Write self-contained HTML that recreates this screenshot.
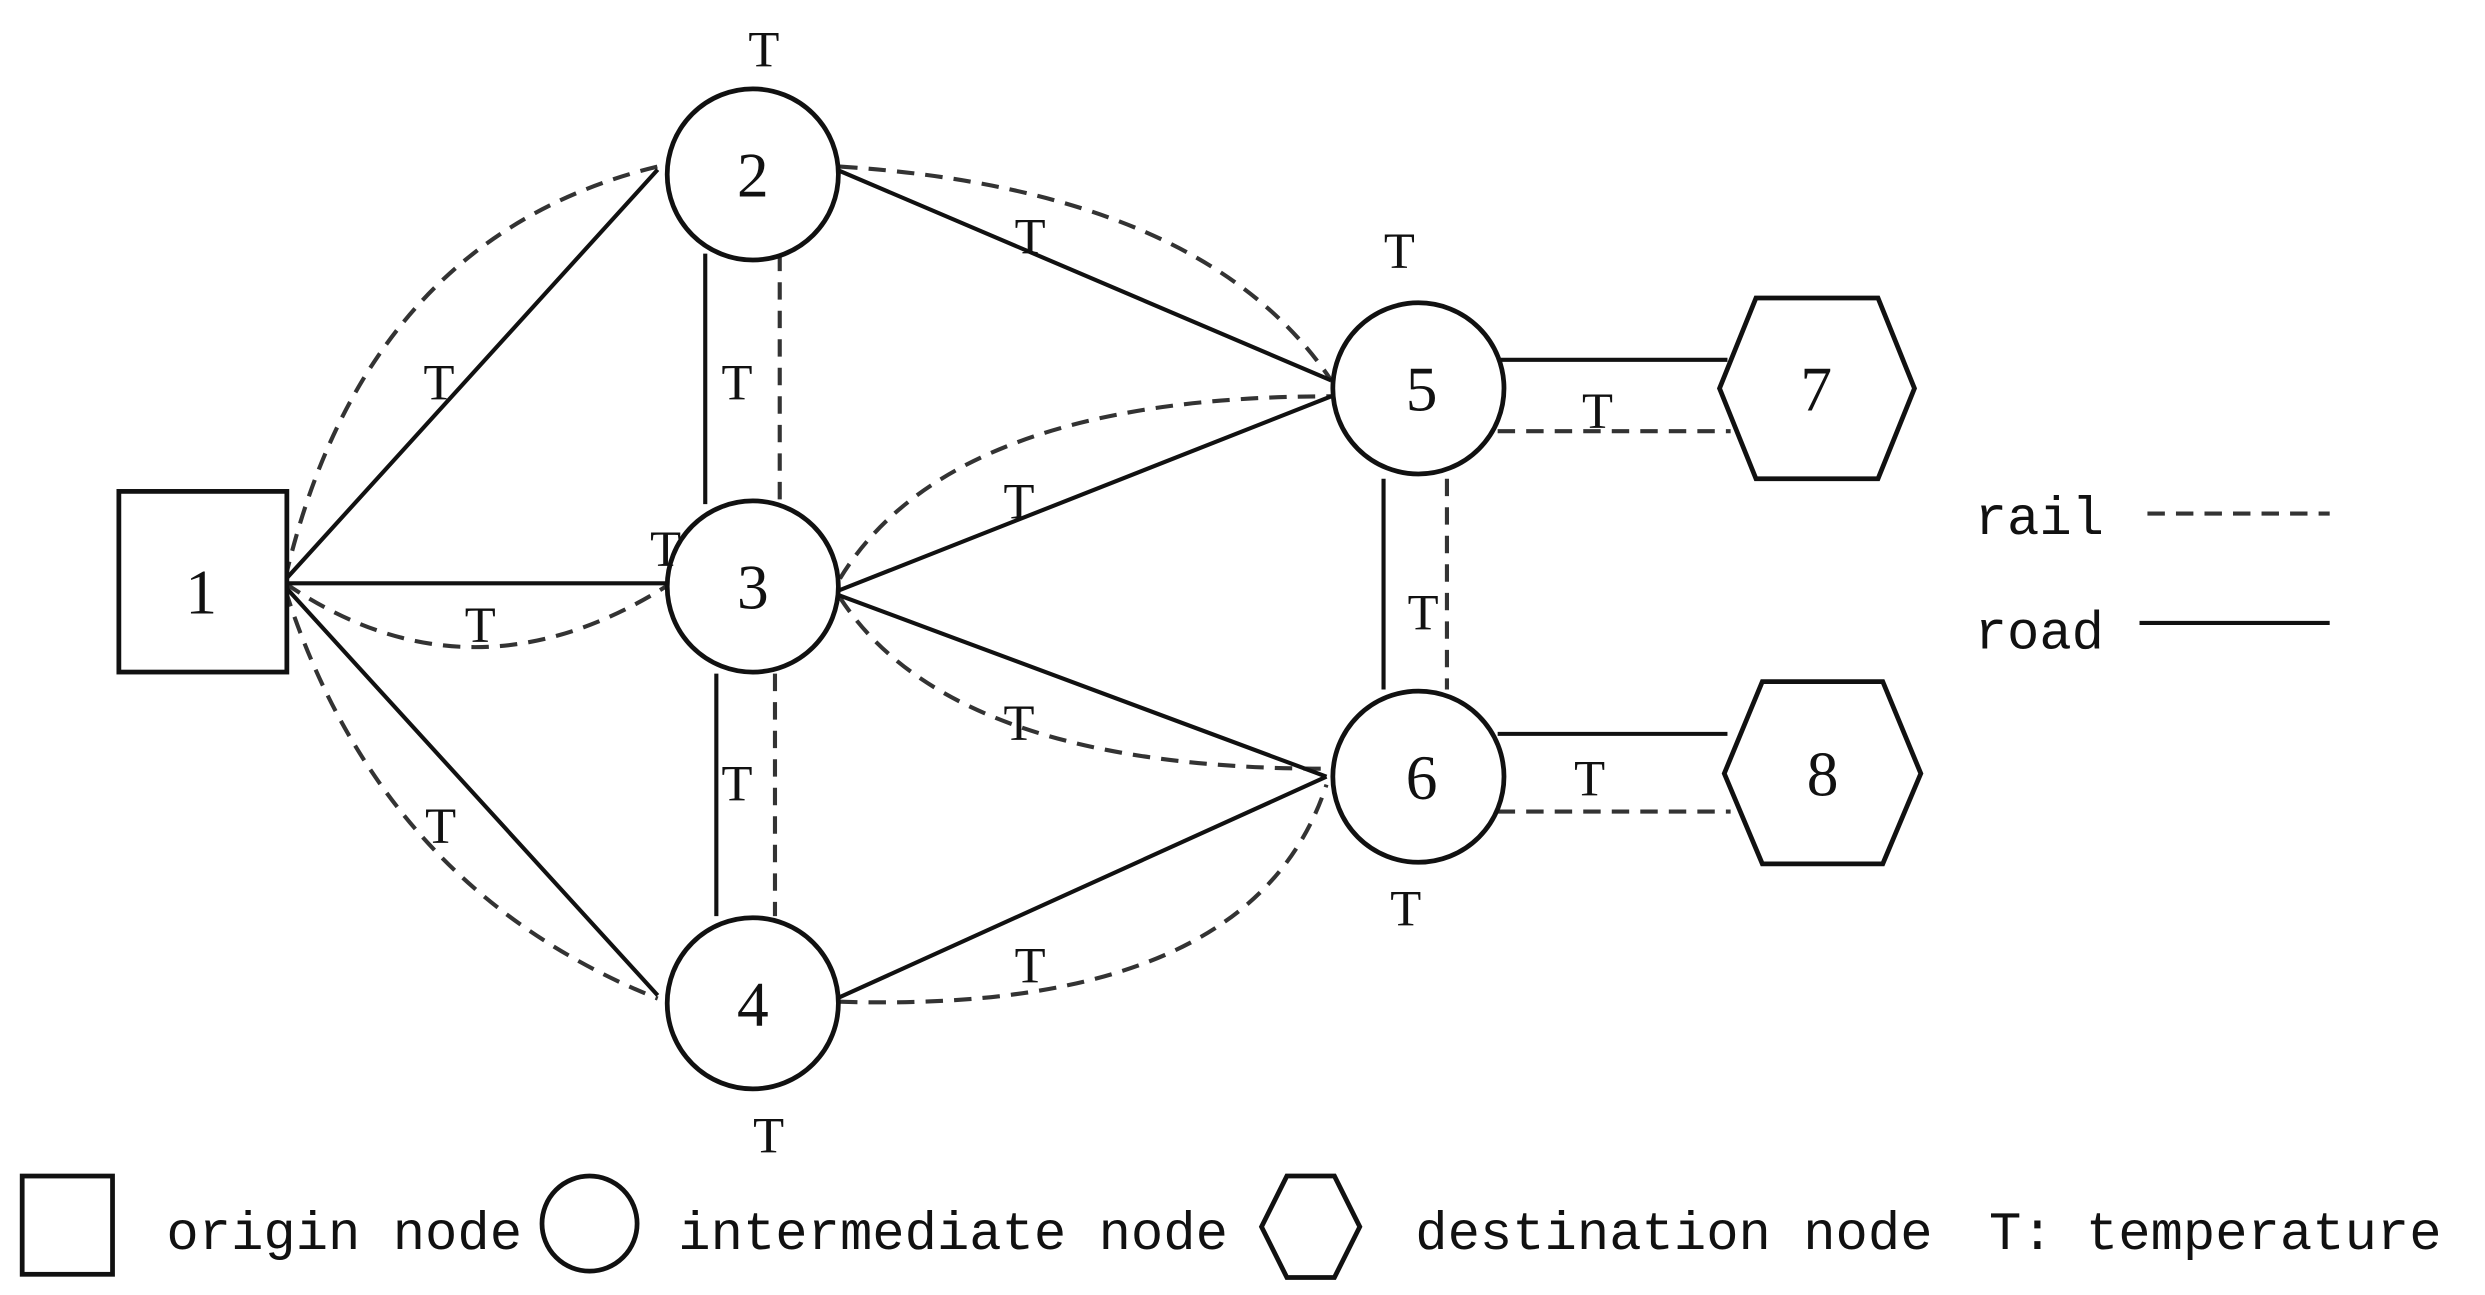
<!DOCTYPE html>
<html><head><meta charset="utf-8"><style>
html,body{margin:0;padding:0;background:#fff;}
svg{display:block;}
text{font-family:"Liberation Serif",serif;fill:#111;}
.m{font-family:"Liberation Mono",monospace;}
</style></head><body>
<svg width="2485" height="1295" viewBox="0 0 1568 817" xmlns="http://www.w3.org/2000/svg">
<g fill="none" stroke="#333" stroke-width="2.6" stroke-dasharray="11,7">
<path d="M180,365 Q230,150 415,105"/>
<path d="M180,368 Q300,450 428,365"/>
<path d="M180,372 Q240,560 415,630"/>
<path d="M530,105 Q760,120 840,240"/>
<path d="M530,365 Q600,250 840,250"/>
<path d="M530,377 Q600,485 837,485"/>
<path d="M530,632 Q790,640 837,495"/>
<line x1="492" y1="160" x2="492" y2="318"/>
<line x1="489" y1="425" x2="489" y2="578"/>
<line x1="913" y1="302" x2="913" y2="435"/>
<line x1="945" y1="272" x2="1092" y2="272"/>
<line x1="945" y1="512" x2="1092" y2="512"/>
<line x1="1355" y1="324" x2="1470" y2="324"/>
</g>
<g fill="none" stroke="#111" stroke-width="2.6">
<line x1="178" y1="368" x2="415" y2="107"/>
<line x1="178" y1="368" x2="428" y2="368"/>
<line x1="178" y1="368" x2="415" y2="628"/>
<line x1="528" y1="107" x2="840" y2="240"/>
<line x1="528" y1="373" x2="840" y2="250"/>
<line x1="528" y1="375" x2="837" y2="490"/>
<line x1="528" y1="630" x2="837" y2="490"/>
<line x1="445" y1="160" x2="445" y2="318"/>
<line x1="452" y1="425" x2="452" y2="578"/>
<line x1="873" y1="302" x2="873" y2="435"/>
<line x1="945" y1="227" x2="1090" y2="227"/>
<line x1="945" y1="463" x2="1090" y2="463"/>
<line x1="1350" y1="393" x2="1470" y2="393"/>
</g>
<g fill="#fff" stroke="#111" stroke-width="3">
<rect x="75" y="310" width="106" height="114"/>
<circle cx="475" cy="110" r="54"/>
<circle cx="475" cy="370" r="54"/>
<circle cx="475" cy="633" r="54"/>
<circle cx="895" cy="245" r="54"/>
<circle cx="895" cy="490" r="54"/>
<polygon points="1108,188 1185,188 1208,245 1185,302 1108,302 1085,245"/>
<polygon points="1112,430 1188,430 1212,488 1188,545 1112,545 1088,488"/>
<rect x="14" y="742" width="57" height="62"/>
<circle cx="372" cy="772" r="30"/>
<polygon points="812,742 842,742 858,774 842,806 812,806 796,774"/>
</g>
<g font-size="40" text-anchor="middle">
<text x="127" y="387">1</text>
<text x="475" y="124">2</text>
<text x="475" y="384">3</text>
<text x="475" y="647">4</text>
<text x="897" y="259">5</text>
<text x="897" y="504">6</text>
<text x="1146" y="259">7</text>
<text x="1150" y="502">8</text>
</g>
<g font-size="32" text-anchor="middle">
<text x="482" y="42">T</text>
<text x="277" y="252">T</text>
<text x="465" y="252">T</text>
<text x="420" y="357">T</text>
<text x="303" y="405">T</text>
<text x="650" y="160">T</text>
<text x="643" y="327">T</text>
<text x="643" y="467">T</text>
<text x="278" y="532">T</text>
<text x="465" y="505">T</text>
<text x="650" y="620">T</text>
<text x="485" y="727">T</text>
<text x="883" y="169">T</text>
<text x="1008" y="270">T</text>
<text x="898" y="397">T</text>
<text x="1003" y="502">T</text>
<text x="887" y="584">T</text>
</g>
<g font-size="34" class="m">
<text class="m" x="1246" y="337">rail</text>
<text class="m" x="1246" y="409">road</text>
<text class="m" x="105" y="788">origin node</text>
<text class="m" x="428" y="788">intermediate node</text>
<text class="m" x="893" y="788">destination node</text>
<text class="m" x="1255" y="788">T: temperature</text>
</g>
</svg>
</body></html>
